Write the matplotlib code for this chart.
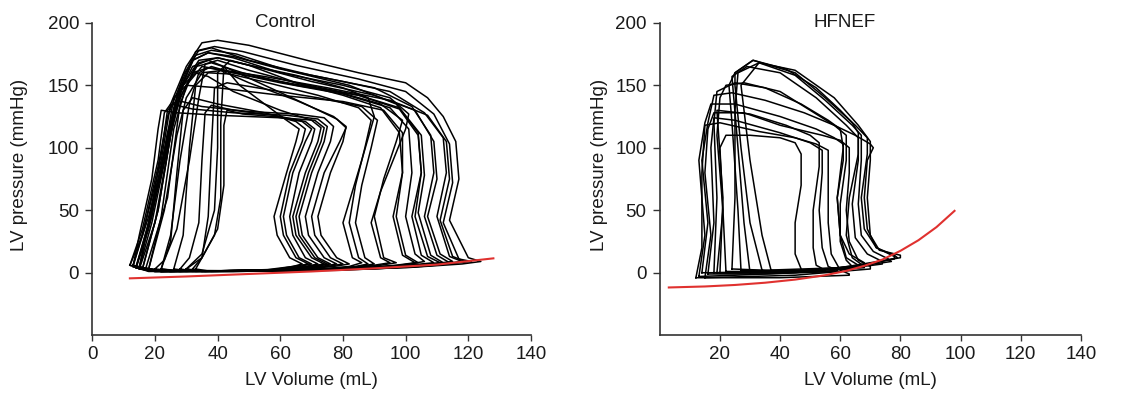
import numpy as np
import matplotlib

matplotlib.use("Agg")
import matplotlib.pyplot as plt  # noqa: E402

plt.rcParams["font.family"] = ["Liberation Sans", "DejaVu Sans"]

# ---- Control: pressure-volume loops (volume mL, pressure mmHg) ----
control_vol = [
    [13, 18, 40, 70, 100, 118, 124, 120, 114, 117, 116, 112, 107, 100, 85, 70, 50, 40, 35, 30, 25, 22, 17],
    [14, 20, 45, 80, 105, 117, 121, 117, 112, 115, 114, 109, 100, 85, 65, 48, 39, 34, 29, 26, 23, 18],
    [15, 20, 50, 85, 108, 118, 114, 110, 113, 112, 106, 95, 80, 60, 45, 37, 32, 28, 25, 20],
    [13, 20, 50, 85, 105, 115, 111, 107, 110, 109, 103, 90, 70, 52, 40, 34, 29, 26, 23, 18],
    [16, 22, 55, 85, 103, 112, 108, 104, 106, 105, 98, 85, 65, 48, 38, 33, 28, 25, 21],
    [14, 22, 55, 85, 101, 109, 105, 102, 105, 104, 97, 82, 62, 46, 38, 33, 28, 24, 19],
    [17, 25, 55, 85, 99, 106, 103, 100, 102, 101, 95, 80, 60, 45, 37, 32, 28, 24],
    [18, 25, 55, 90, 110, 119, 115, 111, 114, 113, 107, 95, 75, 55, 42, 35, 30, 27, 23],
    [20, 28, 55, 85, 103, 111, 107, 103, 105, 104, 98, 85, 65, 50, 40, 36, 34, 31, 27, 23],
    [33, 38, 60, 85, 98, 104, 100, 97, 99, 98, 92, 80, 65, 50, 44, 42, 41, 41, 39, 35],
    [15, 22, 50, 80, 97, 103, 99, 96, 99, 99, 93, 80, 60, 40, 30, 26, 23, 18],
    [12, 18, 45, 80, 104, 114, 110, 106, 109, 108, 102, 90, 70, 50, 38, 33, 28, 24, 21, 16],
    [15, 22, 45, 70, 82, 86, 83, 80, 83, 86, 90, 88, 80, 65, 50, 40, 34, 29, 25, 22, 18],
    [14, 22, 50, 78, 90, 95, 92, 89, 92, 96, 100, 101, 95, 80, 60, 45, 37, 32, 27, 24, 18],
    [22, 30, 55, 80, 92, 97, 93, 90, 93, 97, 99, 92, 78, 60, 45, 38, 34, 31, 28, 25],
    [26, 32, 55, 75, 84, 88, 85, 82, 84, 87, 89, 85, 72, 56, 44, 37, 33, 31, 29],
    [30, 35, 55, 75, 85, 90, 87, 84, 86, 89, 91, 86, 72, 55, 43, 39, 38, 37, 35],
    [14, 20, 40, 60, 73, 78, 74, 69, 68, 72, 76, 77, 74, 65, 50, 35, 27, 24, 22, 18],
    [12, 18, 40, 60, 71, 76, 72, 67, 66, 70, 74, 75, 72, 62, 45, 32, 25, 23, 21, 16],
    [16, 22, 40, 58, 69, 74, 70, 65, 64, 68, 72, 73, 70, 60, 45, 37, 33, 29, 26, 21],
    [28, 33, 45, 60, 68, 72, 68, 64, 63, 66, 70, 71, 68, 58, 45, 38, 36, 35, 34, 31],
    [32, 36, 48, 60, 66, 70, 66, 62, 61, 64, 68, 70, 67, 58, 48, 43, 42, 42, 40, 35],
    [15, 22, 42, 62, 75, 80, 76, 71, 70, 74, 79, 81, 78, 68, 55, 42, 37, 32, 27, 24, 19],
    [30, 35, 48, 58, 64, 67, 63, 59, 58, 62, 65, 66, 62, 55, 47, 42, 40, 40, 39, 35],
    [13, 18, 40, 60, 70, 75, 71, 66, 65, 69, 73, 74, 71, 60, 40, 27, 22, 21, 19, 15],
    [18, 25, 45, 65, 77, 82, 78, 73, 72, 76, 80, 81, 77, 65, 50, 40, 35, 30, 26, 22],
    [22, 28, 42, 56, 64, 69, 65, 61, 60, 63, 67, 68, 65, 55, 40, 32, 29, 27, 25],
]
control_pres = [
    [5, 1.5, 1, 2, 4, 7, 9, 12, 42, 75, 105, 125, 140, 152, 160, 169, 182, 186, 184, 165, 135, 90, 40],
    [4, 1, 1, 2, 5, 8, 9, 11, 40, 72, 103, 127, 145, 155, 166, 177, 181, 178, 158, 132, 90, 35],
    [3, 1, 1.5, 3, 6, 9, 13, 45, 80, 108, 128, 145, 153, 163, 173, 176, 170, 145, 110, 40],
    [6, 2, 1.5, 3, 6, 9, 15, 45, 75, 105, 130, 142, 153, 165, 172, 170, 150, 128, 95, 45],
    [3, 1, 2, 3, 6, 8, 14, 48, 78, 110, 132, 142, 150, 160, 168, 165, 140, 110, 50],
    [5, 1.5, 1.5, 3, 6, 8, 14, 45, 80, 112, 135, 150, 162, 175, 178, 174, 148, 112, 45],
    [3, 1, 1.5, 3, 6, 9, 15, 45, 80, 115, 132, 143, 152, 160, 164, 160, 135, 60],
    [3, 1, 1.5, 3, 6, 9, 13, 42, 75, 105, 126, 138, 148, 157, 162, 160, 140, 110, 50],
    [3, 1, 1.5, 3, 5, 8, 13, 45, 80, 110, 131, 142, 152, 162, 170, 167, 140, 90, 35, 10],
    [3, 1, 1.5, 3, 6, 8, 14, 45, 80, 112, 132, 142, 152, 166, 170, 165, 120, 60, 30, 12],
    [4, 1, 1.5, 3, 6, 8, 14, 45, 80, 112, 130, 137, 142, 148, 150, 140, 95, 40],
    [6, 1.5, 1, 2.5, 5, 8, 14, 45, 80, 110, 133, 148, 158, 170, 180, 177, 150, 125, 85, 30],
    [4, 1, 1.5, 2.5, 5, 8, 12, 40, 65, 90, 125, 140, 148, 158, 166, 172, 168, 145, 120, 85, 40],
    [5, 1.5, 1.5, 3, 6, 8, 12, 40, 65, 90, 115, 127, 140, 150, 160, 172, 176, 170, 140, 100, 40],
    [3, 1, 1.5, 3, 6, 8, 12, 45, 75, 105, 122, 135, 145, 153, 160, 165, 160, 135, 90, 30],
    [3, 1, 1.5, 3, 5, 7, 12, 40, 70, 100, 122, 132, 142, 152, 159, 160, 150, 100, 30],
    [3, 1, 1.5, 3, 5, 7, 12, 40, 70, 100, 122, 133, 140, 147, 152, 148, 100, 45, 12],
    [4, 1, 1.5, 2.5, 5, 7, 12, 30, 45, 80, 105, 117, 124, 127, 129, 133, 138, 130, 95, 40],
    [6, 1.5, 1.5, 2.5, 5, 7, 12, 30, 45, 80, 105, 117, 123, 126, 128, 131, 135, 128, 90, 35],
    [3, 1, 1.5, 2.5, 5, 7, 12, 30, 45, 80, 105, 116, 122, 130, 145, 157, 160, 150, 125, 50],
    [3, 1, 1.5, 2.5, 5, 7, 12, 30, 45, 80, 105, 115, 121, 126, 130, 134, 128, 90, 40, 12],
    [3, 1, 1.5, 2.5, 5, 7, 12, 30, 45, 80, 105, 115, 121, 125, 127, 130, 118, 70, 35, 12],
    [4, 1, 1.5, 2.5, 5, 7, 12, 30, 45, 80, 105, 116, 123, 135, 150, 165, 170, 165, 140, 100, 40],
    [3, 1, 1.5, 2.5, 5, 7, 12, 30, 45, 80, 105, 115, 122, 135, 150, 165, 160, 100, 50, 15],
    [5, 1, 1.5, 2.5, 5, 7, 12, 30, 45, 80, 105, 116, 122, 124, 126, 128, 130, 115, 75, 30],
    [3, 1, 1.5, 2.5, 5, 7, 12, 30, 45, 80, 105, 117, 125, 138, 152, 163, 165, 150, 115, 45],
    [3, 1, 1.5, 2.5, 5, 7, 12, 30, 45, 80, 105, 115, 121, 128, 135, 140, 130, 80, 25],
]
control_edpvr_vol = [12, 30, 50, 70, 90, 110, 128]
control_edpvr_pres = [-4.5, -3, -1, 1, 3.5, 6.5, 11.5]

# ---- HFNEF ----
hfnef_vol = [
    [34, 30, 27, 25, 25, 31, 45, 55, 65, 69, 69, 67, 68, 72, 78, 79, 70, 55, 40],
    [37, 34, 30, 27, 33, 45, 55, 64, 67, 67, 66, 67, 71, 76, 77, 60, 45],
    [30, 28, 26, 24, 29, 40, 52, 62, 66, 66, 64, 65, 69, 74, 74, 55],
    [14, 16, 14, 16, 18, 24, 35, 48, 58, 65, 70, 71, 69, 68, 69, 72, 78, 78, 60, 30],
    [13, 15, 13, 15, 17, 25, 40, 52, 58, 61, 61, 59, 60, 63, 68, 68, 45, 25],
    [16, 18, 17, 18, 25, 40, 50, 54, 54, 53, 54, 56, 59, 59, 35],
    [19, 21, 20, 22, 30, 40, 45, 47, 47, 45, 45, 47, 47, 30],
    [27, 26, 24, 23, 25, 31, 42, 52, 60, 64, 66, 66, 63, 62, 64, 68, 68, 45],
    [22, 21, 19, 20, 22, 28, 40, 50, 58, 62, 62, 60, 60, 62, 64, 64, 40],
    [20, 21, 19, 30, 42, 50, 53, 53, 51, 51, 52, 55, 55, 35],
    [15, 17, 15, 16, 18, 28, 40, 54, 60, 63, 63, 62, 63, 66, 70, 70, 45],
    [12, 14, 14, 15, 20, 33, 45, 52, 56, 56, 56, 57, 60, 63, 63, 40],
    [24, 25, 25, 26, 33, 45, 58, 66, 70, 70, 69, 70, 73, 80, 80, 60, 35],
    [18, 19, 18, 19, 25, 35, 47, 56, 60, 61, 59, 60, 62, 66, 66, 40],
]
hfnef_pres = [
    [2, 40, 100, 150, 160, 170, 160, 140, 118, 108, 95, 60, 35, 20, 14, 12, 7, 3, 1],
    [2, 30, 90, 150, 168, 158, 138, 118, 110, 90, 55, 30, 17, 11, 9, 3, 1.5],
    [0, 40, 100, 157, 165, 160, 140, 118, 108, 90, 55, 28, 15, 9, 7, 1],
    [0, 40, 90, 120, 142, 144, 138, 128, 118, 110, 103, 100, 90, 60, 35, 20, 13, 11, 3, 0],
    [-3, 30, 90, 120, 135, 135, 125, 115, 108, 103, 90, 60, 30, 15, 8, 6, 0, -2],
    [-1, 40, 100, 124, 122, 112, 104, 98, 80, 50, 20, 5, 2, 1, -1],
    [0, 50, 100, 110, 110, 108, 104, 95, 70, 40, 15, 3, 1, 0],
    [2, 50, 120, 150, 160, 170, 163, 148, 130, 120, 112, 95, 60, 30, 12, 5, 4, 1],
    [1, 50, 110, 140, 150, 152, 145, 130, 118, 110, 90, 55, 25, 10, 5, 3, 1],
    [0, 60, 130, 127, 118, 110, 104, 85, 50, 20, 6, 2, 1, 0],
    [-4, 30, 80, 115, 128, 128, 118, 110, 106, 100, 80, 50, 25, 10, 5, 3, -2],
    [-4, 20, 80, 118, 120, 113, 108, 103, 98, 80, 40, 15, 2, -1, -2, -4],
    [3, 60, 130, 160, 168, 162, 140, 118, 105, 90, 60, 30, 18, 14, 12, 4, 2],
    [0, 60, 120, 145, 152, 148, 135, 122, 115, 100, 60, 30, 12, 6, 5, 1],
]
hfnef_edpvr_vol = [3, 15, 25, 35, 45, 55, 62, 68, 74, 80, 86, 92, 98]
hfnef_edpvr_pres = [-11.8, -11, -9.8, -8, -5.5, -2, 1.5, 5.5, 10.5, 17.5, 26, 36.5, 49.5]

LOOP_COLOR = "black"
EDPVR_COLOR = "#e0312f"
AXIS_COLOR = "#333333"
FONT_SIZE = 13.5


def style_axes(ax, xticks):
    ax.set_xlim(0, 140)
    ax.set_ylim(-50, 200)
    ax.set_xticks(xticks)
    ax.set_yticks([0, 50, 100, 150, 200])
    for side in ("top", "right"):
        ax.spines[side].set_visible(False)
    for side in ("left", "bottom"):
        ax.spines[side].set_color(AXIS_COLOR)
        ax.spines[side].set_linewidth(1.2)
    ax.tick_params(axis="both", colors=AXIS_COLOR, labelcolor="#1a1a1a",
                   labelsize=FONT_SIZE, width=1.0)
    ax.tick_params(axis="y", length=5, pad=4.5)
    ax.tick_params(axis="x", length=4, pad=4)
    ax.set_xlabel("LV Volume (mL)", fontsize=FONT_SIZE, color="#1a1a1a", labelpad=6)
    ax.set_ylabel("LV pressure (mmHg)", fontsize=FONT_SIZE, color="#1a1a1a")


def draw_panel(ax, vols, pres, edpvr_v, edpvr_p, title):
    for v, p in zip(vols, pres):
        # close each loop back onto its first point
        ax.plot(v + v[:1], p + p[:1], color=LOOP_COLOR, linewidth=1.1,
                solid_joinstyle="round", clip_on=False)
    ax.plot(edpvr_v, edpvr_p, color=EDPVR_COLOR, linewidth=1.5, zorder=3)
    ax.text(61.5, 200, title, ha="center", va="center", fontsize=FONT_SIZE,
            color="#1a1a1a")


fig = plt.figure(figsize=(11.24, 4.0), dpi=100)
ax_ctrl = fig.add_axes([0.0821, 0.162, 0.3903, 0.781])
ax_hf = fig.add_axes([0.587, 0.162, 0.3746, 0.781])

draw_panel(ax_ctrl, control_vol, control_pres, control_edpvr_vol,
           control_edpvr_pres, "Control")
draw_panel(ax_hf, hfnef_vol, hfnef_pres, hfnef_edpvr_vol,
           hfnef_edpvr_pres, "HFNEF")

style_axes(ax_ctrl, [0, 20, 40, 60, 80, 100, 120, 140])
style_axes(ax_hf, [20, 40, 60, 80, 100, 120, 140])
ax_ctrl.yaxis.set_label_coords(-0.147, 0.544)
ax_hf.yaxis.set_label_coords(-0.124, 0.544)

fig.savefig("out.png", dpi=100)
